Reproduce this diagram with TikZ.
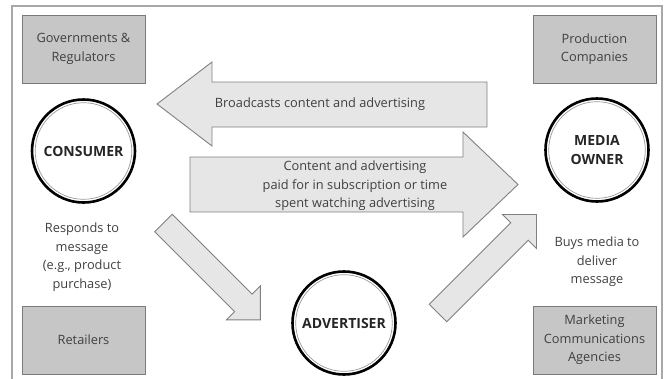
\documentclass[tikz,border=0pt]{standalone}
\usepackage{fontspec}
\setmainfont{Open Sans}
\definecolor{txt}{HTML}{404040}
\definecolor{boxfill}{HTML}{C6C6C6}
\definecolor{boxline}{HTML}{7A7A7A}
\definecolor{arrfill}{HTML}{E6E6E6}
\definecolor{arrline}{HTML}{808080}
\definecolor{frameline}{HTML}{A8A8A8}
\begin{document}
\begin{tikzpicture}[x=1pt,y=-1pt,
  every node/.style={inner sep=0pt, outer sep=0pt},
  label/.style={font=\fontsize{12.8}{18.5}\selectfont, text=txt, align=center},
  orgbox/.style={label, draw=boxline, fill=boxfill, line width=0.9pt,
                 minimum width=123pt, minimum height=68pt},
  hub/.style={circle, draw=black, line width=2.6pt, minimum size=103pt,
              font=\fontsize{14}{19}\bfseries\selectfont, text=black!85, align=center},
  ring/.style={draw=gray!80, line width=0.7pt},
  blockarrow/.style={draw=arrline, fill=arrfill, line width=0.9pt, line join=miter}]

\useasboundingbox (0,0) rectangle (667,378);

% outer frame, running off the lower edge
\draw[frameline, line width=1.3pt] (12,380) -- (12,6) -- (662,6) -- (662,380);

% organisations in the corners
\node[orgbox] (gov) at (83.5,49) {Governments \&\\Regulators};
\node[orgbox] (prod) at (594.5,49) {Production\\Companies};
\node[orgbox] (retail) at (83.5,340) {Retailers};
\node[orgbox] (mca) at (594.5,340) {Marketing\\Communications\\Agencies};

% the three parties
\node[hub] (consumer) at (83.5,151) {CONSUMER};
\node[hub] (owner) at (597,150) {MEDIA\\OWNER};
\node[hub] (advertiser) at (344,323) {ADVERTISER};
\foreach \c in {consumer,owner,advertiser}
  \draw[ring] (\c.center) circle[radius=48.3pt];

% block arrows between the parties
\draw[blockarrow] (157,104) -- (212,62) -- (212,82) -- (487,82) -- (487,127)
  -- (212,127) -- (212,146) -- cycle;
\draw[blockarrow] (190,157) -- (463,157) -- (463,132) -- (518,184.5)
  -- (463,237) -- (463,212) -- (190,212) -- cycle;
\draw[blockarrow] (172.3,214.2) -- (252.2,294.1) -- (260.4,285.9) -- (260.4,319.9)
  -- (226.4,319.9) -- (234.6,311.7) -- (154.7,231.8) -- cycle;
\draw[blockarrow] (429.2,304.2) -- (510.7,222.7) -- (502.5,214.5) -- (536.5,214.5)
  -- (536.5,248.5) -- (528.3,240.3) -- (446.8,321.8) -- cycle;

% flow labels
\node[label] (broadcast) at (320,104) {Broadcasts content and advertising};
\node[label] (paid) at (355,186) {Content and advertising\\paid for in subscription or time\\spent watching advertising};
\node[label] (responds) at (82,257) {Responds to\\message\\(e.g., product\\purchase)};
\node[label] (buys) at (597,262) {Buys media to\\deliver\\message};

\end{tikzpicture}
\end{document}
